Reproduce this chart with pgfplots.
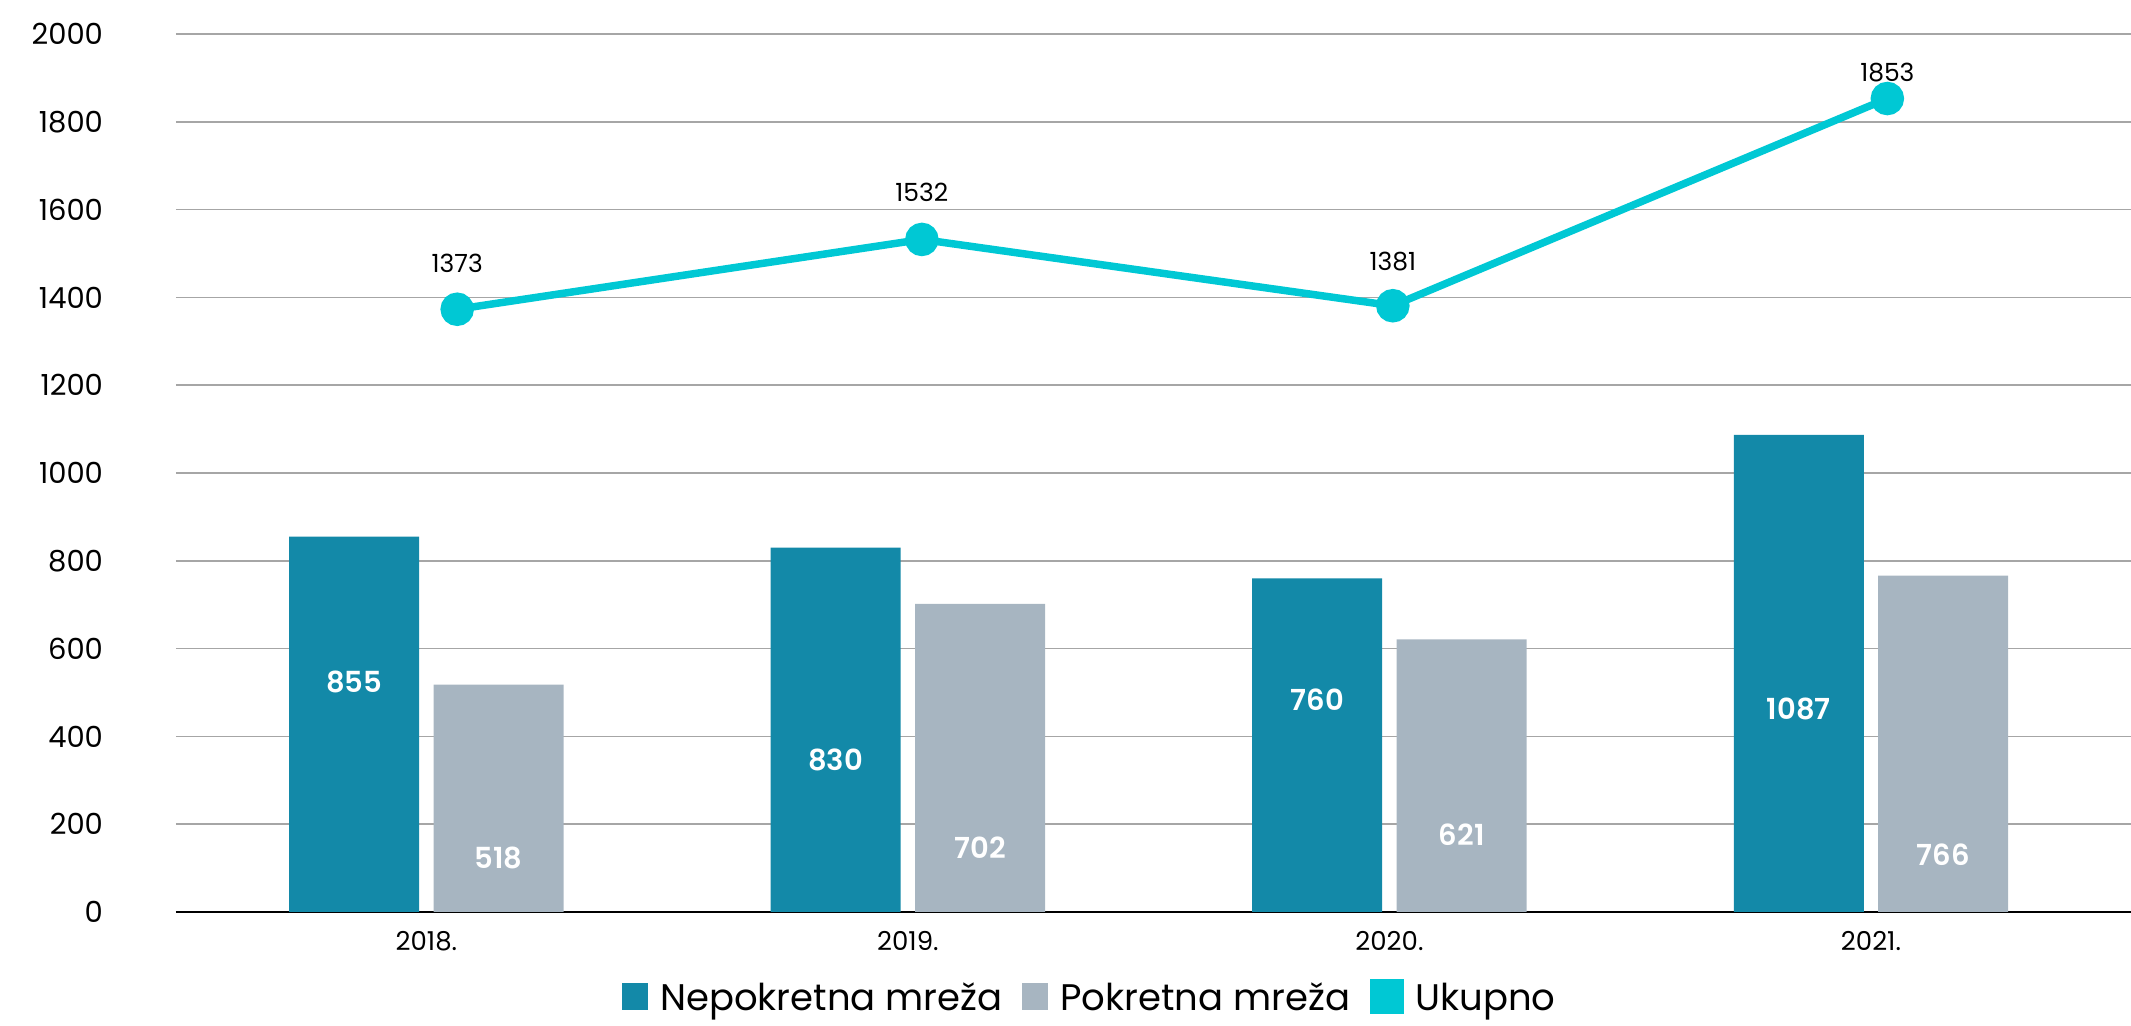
\documentclass[border=0pt]{standalone}
\usepackage{pgfplots}
\pgfplotsset{compat=1.18}
\usepackage{fontspec}
\setmainfont{Poppins}
\newfontfamily\semib{Poppins SemiBold}
\definecolor{teal1}{HTML}{1389A8}
\definecolor{grey1}{HTML}{A7B5C1}
\definecolor{cyan1}{HTML}{00C8D4}
\begin{document}
\begin{tikzpicture}
\begin{axis}[
 scale only axis, width=977.5pt, height=439pt,
 xmin=-0.52, xmax=3.54, ymin=0, ymax=2000,
 xtick={0,1,2,3}, xticklabels={2018.,2019.,2020.,2021.},
 ytick={0,200,...,2000},
 axis x line*=bottom, axis y line*=left,
 x axis line style={black, line width=1pt, -},
 y axis line style={draw=none},
 major tick length=0pt,
 ymajorgrids, grid style={color=black!35, line width=0.8pt},
 /pgf/number format/assume math mode=true,
 /pgf/number format/1000 sep={},
 yticklabel style={font=\fontsize{14.5}{16}\selectfont, anchor=east, xshift=-33pt},
 xticklabel style={font=\fontsize{13}{15}\selectfont, yshift=-6pt},
 clip=false,
 legend columns=3,
 legend style={font=\fontsize{18.5}{20}\selectfont, draw=none, fill=none,
   at={(0.468,-0.098)}, anchor=center,
   /tikz/every odd column/.append style={column sep=4pt},
   /tikz/every even column/.append style={column sep=8pt}},
]
\addplot[ybar, bar width=0.27, bar shift=-0.15, fill=teal1, draw=none,
  legend image code/.code={\fill[teal1] (0pt,-6pt) rectangle (13pt,7.5pt);}]
  coordinates {(0,855) (1,830) (2,760) (3,1087)};
\addlegendentry{Nepokretna mreža}
\addplot[ybar, bar width=0.27, bar shift=0.15, fill=grey1, draw=none,
  legend image code/.code={\fill[grey1] (0pt,-6pt) rectangle (13pt,7.5pt);}]
  coordinates {(0,518) (1,702) (2,621) (3,766)};
\addlegendentry{Pokretna mreža}
\addplot[cyan1, line width=3.75pt, mark=*, mark size=6.5pt,
  mark options={fill=cyan1, draw=none},
  legend image code/.code={\fill[cyan1] (0pt,-6pt) rectangle (13pt,7.5pt);}]
  coordinates {(0.064,1373) (1.029,1532) (2.007,1381) (3.034,1853)};
\addlegendentry{Ukupno}
\addplot[draw=none, mark=none, forget plot, nodes near coords, point meta=explicit symbolic,
  every node near coord/.style={anchor=center, text=black, font=\fontsize{12.5}{14}\selectfont}]
  table[meta=l] {
x y l
0.064 1478 1373
1.029 1640 1532
2.007 1481 1381
3.034 1913 1853
};
\addplot[draw=none, mark=none, forget plot, nodes near coords, point meta=explicit symbolic,
  every node near coord/.style={anchor=center, text=white, font=\semib\fontsize{14.5}{16}\selectfont}]
  table[meta=l] {
x y l
-0.15 524 855
0.85 346 830
1.85 483 760
2.85 462 1087
0.15 123 518
1.15 146 702
2.15 177 621
3.15 130 766
};
\end{axis}
\pgfresetboundingbox
\path[use as bounding box] (-88pt,-57pt) rectangle (977.5pt,456pt);
\end{tikzpicture}
\end{document}
